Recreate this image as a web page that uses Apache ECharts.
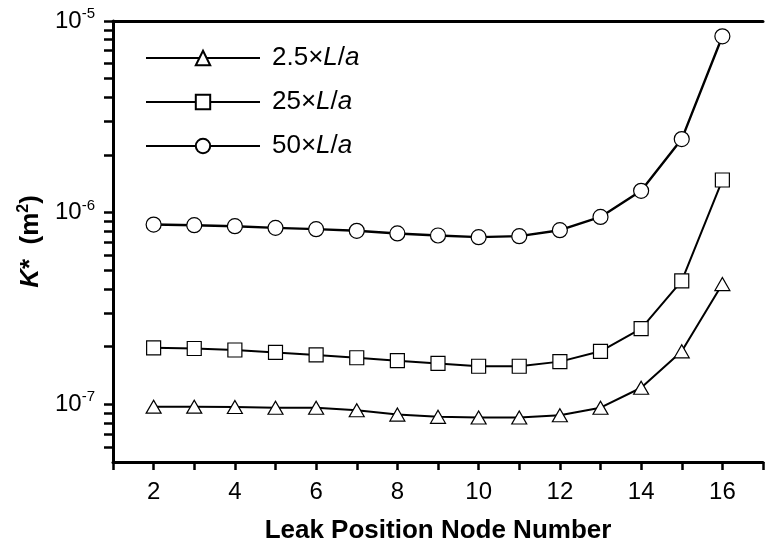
<!DOCTYPE html>
<html>
<head>
<meta charset="utf-8">
<script src="https://cdn.jsdelivr.net/npm/echarts@6/dist/echarts.min.js"></script>
<style>
html,body{margin:0;padding:0;background:#fff;}
#c{width:766px;height:549px;}
</style>
</head>
<body>
<div id="c"></div>
<script>
// ---- data ----
var nodes = [2, 3, 4, 5, 6, 7, 8, 9, 10, 11, 12, 13, 14, 15, 16];
var seriesNames = ['2.5×L/a', '25×L/a', '50×L/a'];
var k2_5 = [9.72e-8, 9.72e-8, 9.68e-8, 9.6e-8, 9.6e-8, 9.31e-8, 8.84e-8, 8.6e-8, 8.53e-8, 8.53e-8, 8.77e-8, 9.6e-8, 1.22e-7, 1.89e-7, 4.24e-7];
var k25 = [1.97e-7, 1.955e-7, 1.92e-7, 1.865e-7, 1.81e-7, 1.75e-7, 1.69e-7, 1.635e-7, 1.58e-7, 1.58e-7, 1.67e-7, 1.89e-7, 2.48e-7, 4.41e-7, 1.48e-6];
var k50 = [8.67e-7, 8.6e-7, 8.5e-7, 8.33e-7, 8.2e-7, 8.04e-7, 7.79e-7, 7.6e-7, 7.45e-7, 7.54e-7, 8.1e-7, 9.5e-7, 1.30e-6, 2.42e-6, 8.32e-6];
var yMajorTicks = [1e-7, 1e-6, 1e-5];
var yMinorTicks = [6e-8, 7e-8, 8e-8, 9e-8, 2e-7, 3e-7, 4e-7, 5e-7, 6e-7, 7e-7, 8e-7, 9e-7, 2e-6, 3e-6, 4e-6, 5e-6, 6e-6, 7e-6, 8e-6, 9e-6];

var FONT = '"Liberation Sans", Arial, sans-serif';
function pairs(ys){ return nodes.map(function(x,i){ return [x, ys[i]]; }); }

var chart = echarts.init(document.getElementById('c'));
var symbols = ['triangle', 'rect', 'circle'];
var sizes = [[15,13], 14, 15];
var datas = [k2_5, k25, k50];
var widths = [2, 2, 2.4];

var series = datas.map(function(d, i){
  return {
    name: seriesNames[i],
    type: 'line',
    data: pairs(d),
    symbol: symbols[i],
    symbolSize: sizes[i],
    showAllSymbol: true,
    lineStyle: {color: '#000', width: widths[i]},
    itemStyle: {color: '#fff', borderColor: '#000', borderWidth: 1.2},
    emphasis: {disabled: true},
    animation: false,
    z: 3
  };
});

chart.setOption({
  animation: false,
  backgroundColor: '#fff',
  textStyle: {fontFamily: FONT},
  grid: {left: 113, top: 21, right: -7, bottom: 84},
  legend: {
    orient: 'vertical',
    left: 145,
    top: 45,
    padding: 0,
    itemWidth: 114,
    itemHeight: 18,
    itemGap: 18,
    data: seriesNames,
    formatter: function(n){
      var p = n.split('×');
      return '{n|' + p[0] + '×}{i|L}{n|/}{i|a}';
    },
    textStyle: {
      padding: [0, 0, 0, 7],
      rich: {
        n: {fontSize: 26, fontFamily: FONT, color: '#000'},
        i: {fontSize: 26, fontFamily: FONT, fontStyle: 'italic', color: '#000'}
      }
    }
  },
  xAxis: [{
    type: 'value',
    min: 1, max: 17, interval: 1,
    position: 'bottom',
    name: 'Leak Position Node Number',
    nameLocation: 'middle',
    nameGap: 56,
    nameTextStyle: {fontSize: 26, fontWeight: 'bold', fontFamily: FONT, color: '#000'},
    axisLine: {show: true, onZero: false, lineStyle: {color: '#000', width: 3}},
    axisTick: {show: true, inside: false, length: 8, lineStyle: {color: '#000', width: 2.5}},
    axisLabel: {
      fontSize: 24, color: '#000', fontFamily: FONT, margin: 18,
      formatter: function(v){ return v % 2 === 0 ? String(v) : ''; }
    },
    splitLine: {show: false}
  }, {
    type: 'value',
    min: 1, max: 17, interval: 1,
    position: 'top',
    axisLine: {show: true, onZero: false, lineStyle: {color: '#000', width: 3}},
    axisTick: {show: false},
    axisLabel: {show: false},
    splitLine: {show: false}
  }],
  yAxis: [{
    type: 'log',
    logBase: 10,
    min: 5e-8, max: 1e-5,
    position: 'left',
    name: '{k|K}{b|*  (m}{s|2}{b|)}',
    nameLocation: 'middle',
    nameRotate: 90,
    nameGap: 63,
    nameTextStyle: {
      rich: {
        k: {fontSize: 26, fontWeight: 'bold', fontStyle: 'italic', fontFamily: FONT, color: '#000'},
        b: {fontSize: 26, fontWeight: 'bold', fontFamily: FONT, color: '#000'},
        s: {fontSize: 16, fontWeight: 'bold', fontFamily: FONT, color: '#000', padding: [0, 0, 15, 0]}
      }
    },
    axisLine: {show: true, onZero: false, lineStyle: {color: '#000', width: 3}},
    axisTick: {show: true, inside: false, length: 9, lineStyle: {color: '#000', width: 2.5},
      customValues: yMajorTicks.concat(yMinorTicks)},
    axisLabel: {
      margin: 18,
      customValues: yMajorTicks,
      formatter: function(v){
        var e = Math.round(Math.log10(v));
        return '{t|10}{s|' + e + '}';
      },
      rich: {
        t: {fontSize: 24, fontFamily: FONT, color: '#000'},
        s: {fontSize: 15, fontFamily: FONT, color: '#000', padding: [0, 0, 14, 0]}
      }
    },
    splitLine: {show: false},
    minorTick: {show: false}
  }],
  series: series
});
</script>
</body>
</html>
